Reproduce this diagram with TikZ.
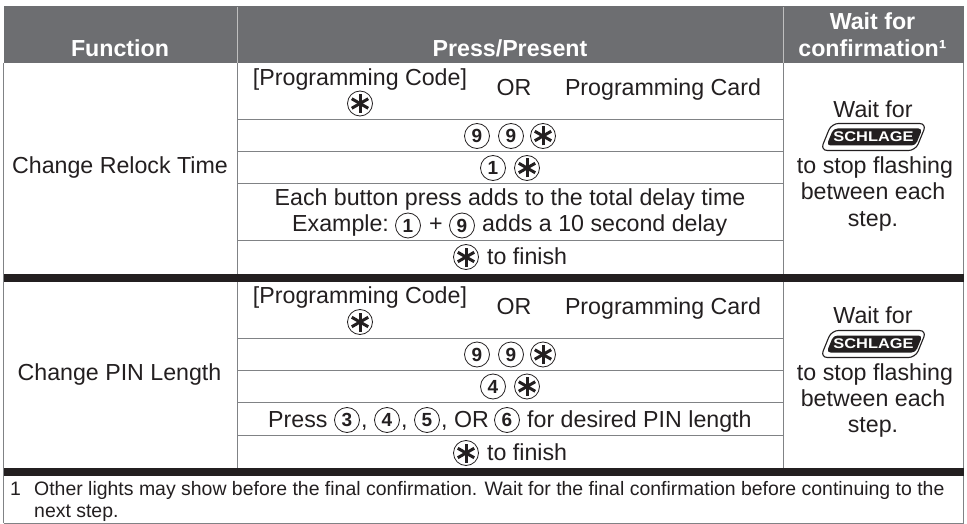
\documentclass[tikz,border=0pt]{standalone}
\usepackage{fontspec}
\setmainfont{Liberation Sans}
\definecolor{ink}{HTML}{231F20}
\definecolor{headgray}{HTML}{6D6E71}
\definecolor{rulegray}{HTML}{808285}
\tikzset{x=1pt,y=-1pt,
 txt/.style={inner sep=0pt,text=ink,font=\fontsize{23.2}{25}\selectfont,align=center,anchor=base},
 foot/.style={inner sep=0pt,text=ink,font=\fontsize{19.45}{21}\selectfont,align=left,anchor=base west},
 head/.style={inner sep=0pt,text=white,font=\fontsize{23.2}{25}\bfseries\selectfont,align=center,anchor=base},
 rule/.style={draw=rulegray,line width=1pt},
 band/.style={fill=ink},
 btn/.style={circle,draw=ink,line width=0.8pt,minimum size=25pt,inner sep=0pt,text=ink,font=\fontsize{19}{19}\bfseries\selectfont},
 starbtn/.pic={\draw[ink,line width=0.8pt] (0,0) circle (12.5);
   \foreach \a in {90,30,150}{\draw[ink,line width=3pt] (\a:9.5)--(\a+180:9.5);}}
}
\newcommand{\logo}[2]{%
 \draw[ink,line width=1.1pt,fill=white,rounded corners=7pt] (#1-53,#2+13.5)--(#1-42,#2-13.5)--(#1+53,#2-13.5)--(#1+42,#2+13.5)--cycle;
 \fill[ink,rounded corners=4pt] (#1-47,#2+8.5)--(#1-40,#2-8.5)--(#1+49,#2-8.5)--(#1+42,#2+8.5)--cycle;
 \node[inner sep=0pt,text=white,xscale=1.17,font=\fontsize{14}{14}\bfseries\selectfont] at (#1,#2) {SCHLAGE};}
\begin{document}
\begin{tikzpicture}
\useasboundingbox (0,0) rectangle (967,524);
\fill[white] (0,0) rectangle (967,524);
% header
\fill[headgray] (3.5,6) rectangle (963.5,63);
\draw[black!25,line width=1pt] (237,7)--(237,63) (783,7)--(783,63);
\node[head] (hf) at (120,57) {Function};
\node[head] (hp) at (510,57) {Press/Present};
\node[head] (hw1) at (872.5,30) {Wait for};
\node[head] (hw2) at (872.5,57) {confirmation¹};
% rules
\draw[rule] (3.5,63)--(3.5,523) (963.5,63)--(963.5,523) (3.5,523)--(963.5,523);
\draw[rule] (237,63)--(237,476) (783,63)--(783,476);
\draw[rule] (237,119.5)--(783,119.5) (237,152)--(783,152) (237,184)--(783,184) (237,240.5)--(783,240.5);
\draw[rule] (237,338)--(783,338) (237,370)--(783,370) (237,402.5)--(783,402.5) (237,435)--(783,435);
% bands
\fill[band] (3.5,273.5) rectangle (963.5,281.5);
\fill[band] (3.5,467.5) rectangle (963.5,475.5);
% column 1
\node[txt] (f1) at (120,174) {Change Relock Time};
\node[txt] (f2) at (119.5,380) {Change PIN Length};
% row block 1
\node[txt] (c1) at (360,86) {[Programming Code]};
\pic at (360,103.5) {starbtn};
\node[txt] (o1) at (514,96) {OR};
\node[txt] (pc1) at (663,96) {Programming Card};
\node[btn] (a1) at (477,136) {9};
\node[btn] (a2) at (511,136) {9};
\pic at (543,136) {starbtn};
\node[btn] (b1) at (493,168) {1};
\pic at (527,168) {starbtn};
\node[txt] (e1) at (510,205) {Each button press adds to the total delay time};
\node[txt,anchor=base west] (e2) at (292,231.5) {Example:};
\node[btn] (e3) at (408,225.5) {1};
\node[txt] (e4) at (436,231.5) {+};
\node[btn] (e5) at (462,225.5) {9};
\node[txt,anchor=base west] (e6) at (482,231.5) {adds a 10 second delay};
\pic at (466,257) {starbtn};
\node[txt,anchor=base west] (g1) at (487,264) {to finish};
% row block 2
\node[txt] (c2) at (360,303) {[Programming Code]};
\pic at (360,322) {starbtn};
\node[txt] (o2) at (514,314) {OR};
\node[txt] (pc2) at (663,314) {Programming Card};
\node[btn] (a3) at (477,354.5) {9};
\node[btn] (a4) at (511,354.5) {9};
\pic at (543,354.5) {starbtn};
\node[btn] (b3) at (493,386.5) {4};
\pic at (527,386.5) {starbtn};
\node[txt,anchor=base west] (p1) at (268,427) {Press};
\node[btn] (p2) at (347,420) {3};
\node[txt,anchor=base west] (p3) at (361,427) {,};
\node[btn] (p4) at (387,420) {4};
\node[txt,anchor=base west] (p5) at (401,427) {,};
\node[btn] (p6) at (427,420) {5};
\node[txt,anchor=base west] (p8) at (441,427) {, OR};
\node[btn] (p9) at (507,420) {6};
\node[txt,anchor=base west] (p10) at (527,427) {for desired PIN length};
\pic at (466,453) {starbtn};
\node[txt,anchor=base west] (g2) at (487,460) {to finish};
% column 3
\node[txt] (w1) at (873,117.5) {Wait for};
\logo{873.5}{137}
\node[txt] (w2) at (875,174) {to stop flashing};
\node[txt] (w3) at (873,200) {between each};
\node[txt] (w4) at (873,226) {step.};
\node[txt] (x1) at (873,323) {Wait for};
\logo{873.5}{344}
\node[txt] (x2) at (875,380) {to stop flashing};
\node[txt] (x3) at (873,406) {between each};
\node[txt] (x4) at (873,432) {step.};
% footnote
\node[foot] (n1) at (10,495) {1};
\node[foot] (n2) at (34,495) {Other lights may show before the final confirmation. Wait for the final confirmation before continuing to the};
\node[foot] (n3) at (34,517) {next step.};
\end{tikzpicture}
\end{document}
